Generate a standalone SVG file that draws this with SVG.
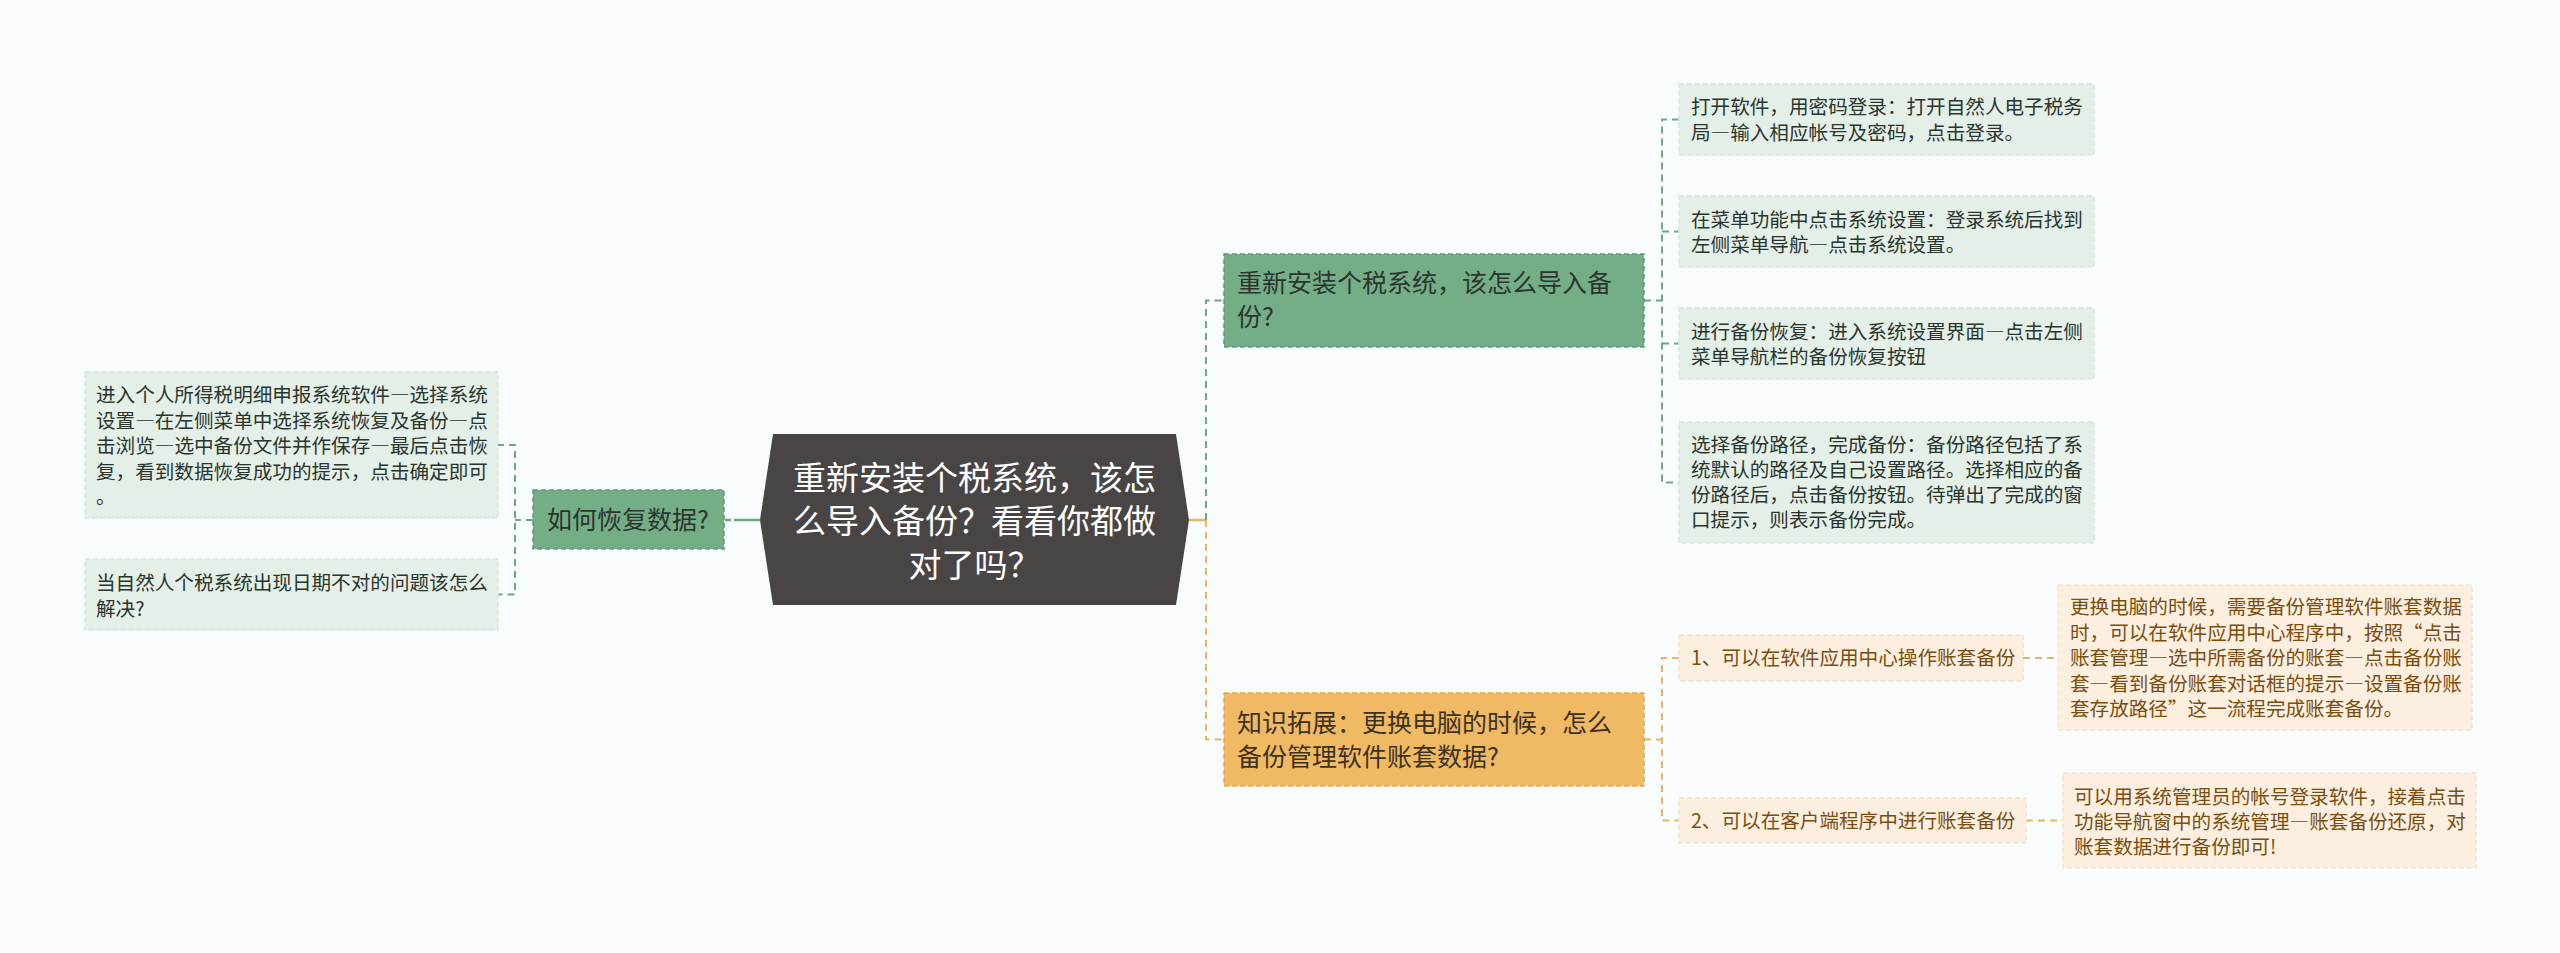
<svg xmlns="http://www.w3.org/2000/svg" width="2560" height="953" viewBox="0 0 2560 953">
<style>
text{font-family:"Noto Sans CJK SC","Noto Sans",sans-serif;}
.d{font-feature-settings:"fwid";}
.leafG{fill:#e4efe7;stroke:#d6e6da;stroke-width:1.5;stroke-dasharray:5 3;}
.leafO{fill:#fcefdf;stroke:#f5e2c9;stroke-width:1.5;stroke-dasharray:5 3;}
.tG{font-size:19.6px;fill:#2a352e;}
.tO{font-size:19.6px;fill:#7a4e10;}
.nodeG{fill:#74ae87;stroke:#5f9a72;stroke-width:1.5;stroke-dasharray:5 3;}
.nodeO{fill:#f0b963;stroke:#dfa64d;stroke-width:1.5;stroke-dasharray:5 3;}
.tN{font-size:25px;fill:#2d3530;}
.tNO{font-size:25px;fill:#3d3222;}
.cG{fill:none;stroke:#6fa683;stroke-width:2;stroke-dasharray:7 5;}
.cO{fill:none;stroke:#e9b462;stroke-width:2;stroke-dasharray:7 5;}
</style>
<rect width="2560" height="953" fill="#f8fcfc"/>
<g id="connectors">
<path d="M760 520 H734" fill="none" stroke="#6fa683" stroke-width="2.5"/>
<path d="M731 520 H725" fill="none" stroke="#6fa683" stroke-width="2.5"/>
<path class="cG" d="M533 520 H515"/>
<path class="cG" d="M497 445 H515 V594.5 H497"/>
<path d="M1189 520 H1206" fill="none" stroke="#e9b462" stroke-width="2.5"/>
<path class="cG" d="M1206 520 V300.5 H1224"/>
<path class="cO" d="M1206 520 V739.5 H1224"/>
<path class="cG" d="M1644 300.5 H1662"/>
<path class="cG" d="M1679 119.5 H1662 V482.5 H1679"/>
<path class="cG" d="M1662 231.5 H1679"/>
<path class="cG" d="M1662 343.5 H1679"/>
<path class="cO" d="M1644 739.5 H1662"/>
<path class="cO" d="M1679 658 H1662 V820.5 H1679"/>
<path class="cO" d="M2023 658 H2058"/>
<path class="cO" d="M2026 820.5 H2063"/>
</g>
<g id="center">
<polygon points="760,520 773,434 1176,434 1189,520 1176,605 773,605" fill="#4a4545"/>
<text x="974.5" text-anchor="middle" font-size="33" fill="#ffffff"><tspan x="974.5" y="489.5">重新安装个税系统，该怎</tspan><tspan x="974.5" y="533">么导入备份？看看你都做</tspan><tspan x="974.5" y="576.5">对了吗？</tspan></text>
</g>
<g id="left-node">
<rect class="nodeG" x="533" y="490" width="191" height="59"/>
<text class="tN" x="547" y="529">如何恢复数据?</text>
</g>
<g id="left-leaf-1">
<rect class="leafG" x="85" y="372" width="413" height="146"/>
<text class="tG"><tspan x="96" y="402">进入个人所得税明细申报系统软件<tspan class="d">—</tspan>选择系统</tspan><tspan x="96" y="427.5">设置<tspan class="d">—</tspan>在左侧菜单中选择系统恢复及备份<tspan class="d">—</tspan>点</tspan><tspan x="96" y="453">击浏览<tspan class="d">—</tspan>选中备份文件并作保存<tspan class="d">—</tspan>最后点击恢</tspan><tspan x="96" y="478.5">复，看到数据恢复成功的提示，点击确定即可</tspan><tspan x="96" y="504">。</tspan></text>
</g>
<g id="left-leaf-2">
<rect class="leafG" x="85" y="559" width="413" height="71"/>
<text class="tG"><tspan x="96" y="590">当自然人个税系统出现日期不对的问题该怎么</tspan><tspan x="96" y="615.5">解决?</tspan></text>
</g>
<g id="right-node-green">
<rect class="nodeG" x="1224" y="254" width="420" height="93"/>
<text class="tN"><tspan x="1237" y="292">重新安装个税系统，该怎么导入备</tspan><tspan x="1237" y="326">份?</tspan></text>
</g>
<g id="green-leaf-1">
<rect class="leafG" x="1679" y="84" width="415" height="71"/>
<text class="tG"><tspan x="1691" y="114">打开软件，用密码登录：打开自然人电子税务</tspan><tspan x="1691" y="139.5">局<tspan class="d">—</tspan>输入相应帐号及密码，点击登录。</tspan></text>
</g>
<g id="green-leaf-2">
<rect class="leafG" x="1679" y="196" width="415" height="71"/>
<text class="tG"><tspan x="1691" y="226.5">在菜单功能中点击系统设置：登录系统后找到</tspan><tspan x="1691" y="252">左侧菜单导航<tspan class="d">—</tspan>点击系统设置。</tspan></text>
</g>
<g id="green-leaf-3">
<rect class="leafG" x="1679" y="308" width="415" height="71"/>
<text class="tG"><tspan x="1691" y="338.5">进行备份恢复：进入系统设置界面<tspan class="d">—</tspan>点击左侧</tspan><tspan x="1691" y="364">菜单导航栏的备份恢复按钮</tspan></text>
</g>
<g id="green-leaf-4">
<rect class="leafG" x="1679" y="422" width="415" height="121"/>
<text class="tG"><tspan x="1691" y="452">选择备份路径，完成备份：备份路径包括了系</tspan><tspan x="1691" y="477">统默认的路径及自己设置路径。选择相应的备</tspan><tspan x="1691" y="502">份路径后，点击备份按钮。待弹出了完成的窗</tspan><tspan x="1691" y="527">口提示，则表示备份完成。</tspan></text>
</g>
<g id="right-node-orange">
<rect class="nodeO" x="1224" y="693" width="420" height="93"/>
<text class="tNO"><tspan x="1237" y="731.5">知识拓展：更换电脑的时候，怎么</tspan><tspan x="1237" y="765.5">备份管理软件账套数据?</tspan></text>
</g>
<g id="orange-sub-1">
<rect class="leafO" x="1679" y="635" width="344" height="46"/>
<text class="tO" x="1691" y="665">1、可以在软件应用中心操作账套备份</text>
</g>
<g id="orange-sub-2">
<rect class="leafO" x="1679" y="798" width="347" height="45"/>
<text class="tO" x="1691" y="828">2、可以在客户端程序中进行账套备份</text>
</g>
<g id="orange-leaf-1">
<rect class="leafO" x="2058" y="585" width="414" height="145"/>
<text class="tO"><tspan x="2070" y="614">更换电脑的时候，需要备份管理软件账套数据</tspan><tspan x="2070" y="639.5">时，可以在软件应用中心程序中，按照“点击</tspan><tspan x="2070" y="665">账套管理<tspan class="d">—</tspan>选中所需备份的账套<tspan class="d">—</tspan>点击备份账</tspan><tspan x="2070" y="690.5">套<tspan class="d">—</tspan>看到备份账套对话框的提示<tspan class="d">—</tspan>设置备份账</tspan><tspan x="2070" y="716">套存放路径”这一流程完成账套备份。</tspan></text>
</g>
<g id="orange-leaf-2">
<rect class="leafO" x="2063" y="773" width="413" height="95"/>
<text class="tO"><tspan x="2074" y="804">可以用系统管理员的帐号登录软件，接着点击</tspan><tspan x="2074" y="829">功能导航窗中的系统管理<tspan class="d">—</tspan>账套备份还原，对</tspan><tspan x="2074" y="854">账套数据进行备份即可!</tspan></text>
</g>
</svg>
